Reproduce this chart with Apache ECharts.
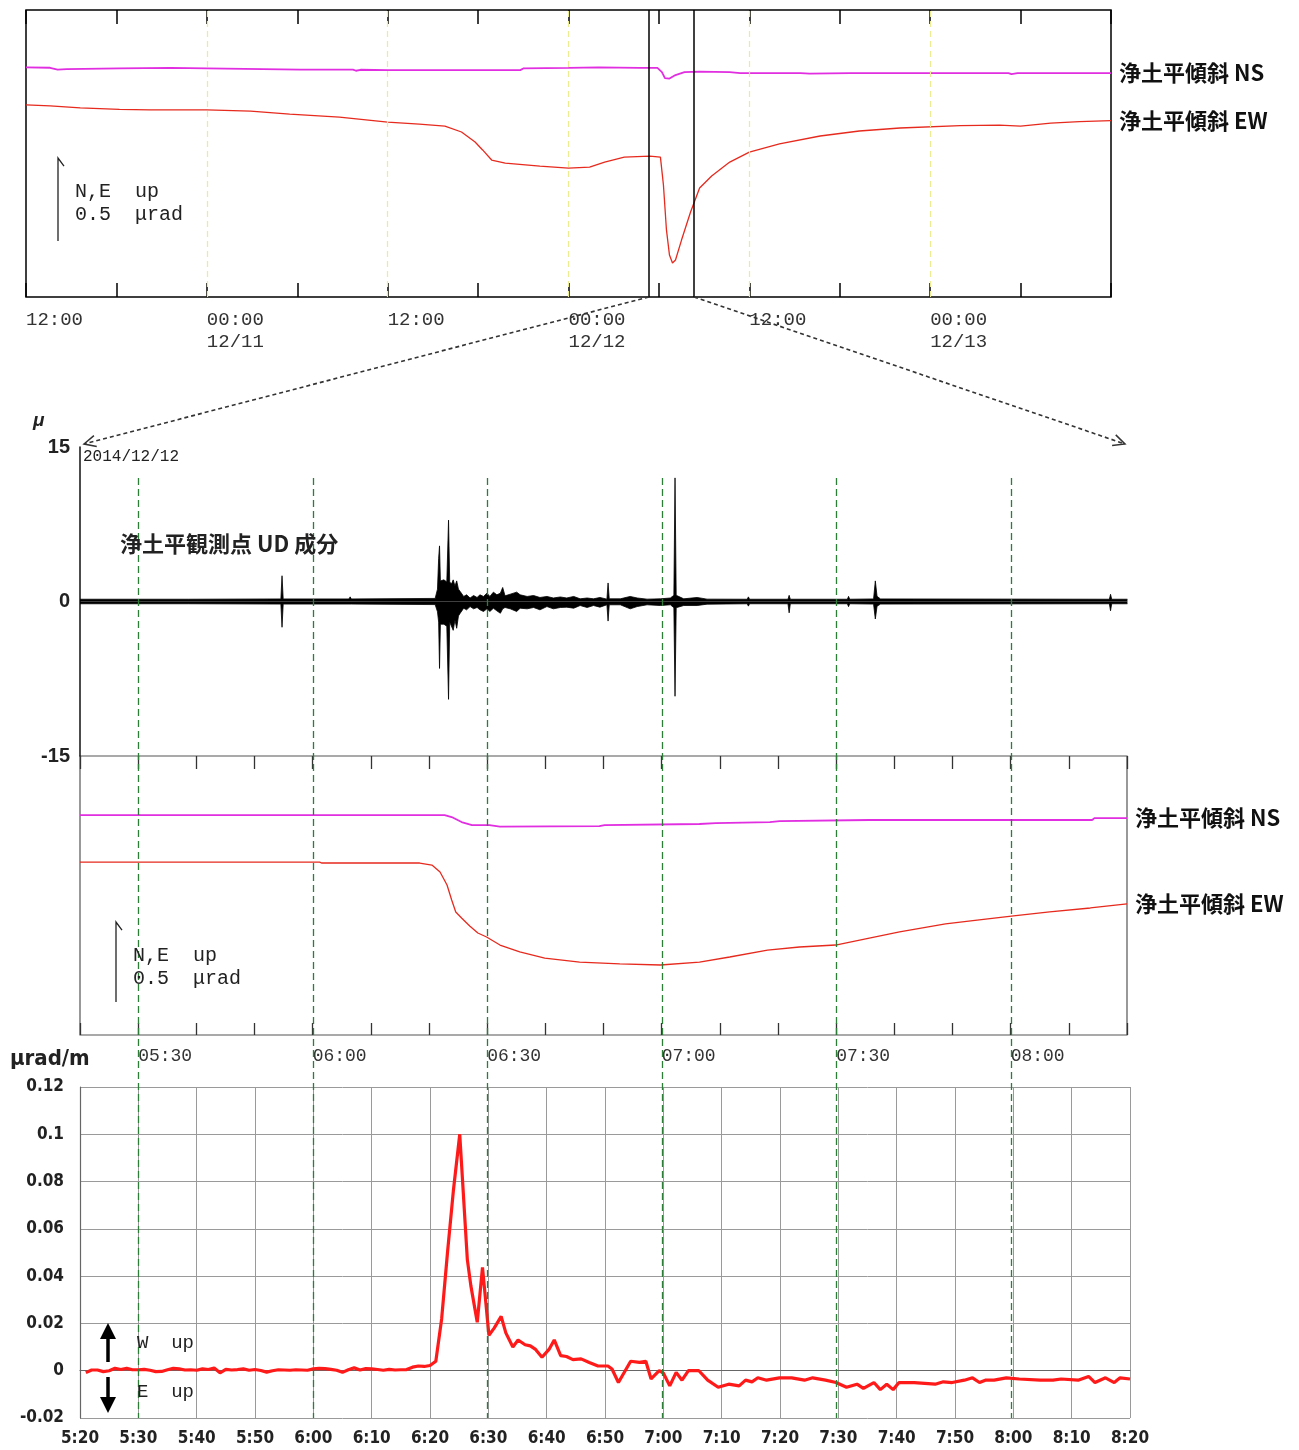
<!DOCTYPE html>
<html><head><meta charset="utf-8">
<script src="https://cdn.jsdelivr.net/npm/echarts@6/dist/echarts.min.js"></script>
<style>html,body{margin:0;padding:0;background:#fff}#c{width:1299px;height:1450px}</style>
</head><body><div id="c"></div>
<script>
// ===== Top panel: hours since 2014/12/10 12:00, tilt in μrad (relative) =====
const topNS = [[0,1.383],[1.6,1.381],[2.1,1.370],[2.7,1.373],[6.2,1.377],[9.6,1.380],[12,1.377],[18.2,1.370],[21.7,1.370],[21.9,1.363],[22.2,1.369],[24,1.367],[28,1.367],[32.8,1.367],[33,1.377],[36,1.380],[38,1.383],[40.7,1.380],[41.9,1.380],[42.2,1.355],[42.4,1.319],[42.7,1.316],[43.1,1.337],[43.7,1.355],[44.7,1.358],[46.7,1.355],[47.4,1.349],[51.4,1.349],[52,1.346],[54.7,1.349],[65.2,1.349],[65.4,1.343],[65.8,1.349],[72,1.349]];
const topEW = [[0,1.157],[1.6,1.151],[3.6,1.139],[6.2,1.130],[8.2,1.127],[12,1.127],[14.9,1.120],[17.5,1.102],[20.8,1.084],[24,1.054],[26.1,1.042],[27.8,1.030],[28.9,0.994],[29.8,0.934],[30.3,0.886],[30.9,0.825],[31.8,0.807],[34.1,0.789],[36,0.777],[37.4,0.783],[38.4,0.813],[39.7,0.843],[41.4,0.849],[42.1,0.843],[42.3,0.675],[42.5,0.404],[42.7,0.253],[42.9,0.205],[43.1,0.223],[43.5,0.343],[44.1,0.512],[44.7,0.657],[45.5,0.729],[46.7,0.813],[48,0.873],[50,0.922],[52.7,0.970],[55.3,1.000],[58,1.018],[62,1.033],[64.6,1.036],[66,1.030],[68,1.048],[69.9,1.057],[72,1.063]];
const topTickLabels = ['12:00','00:00\n12/11','12:00','00:00\n12/12','12:00','00:00\n12/13'];
const topDayLines = [12,24,36,48,60];          // 00:00 / 12:00 guide lines (hours)
const zoomWindow = ['05:20','08:20'];          // on 12/12 (= hour 36 + time)

// ===== Seismogram envelope: minutes since 05:20, [t, upper, lower] (μ) =====
const seisEnvelope = [[0,0.22,-0.22],[18.2,0.22,-0.22],[18.4,0.4,-0.35],[18.6,0.22,-0.22],[34.5,0.25,-0.25],[34.7,2.5,-2.5],[34.9,0.25,-0.25],[46.2,0.25,-0.25],[46.4,0.45,-0.4],[46.6,0.25,-0.25],
  [61.0,0.3,-0.3],[61.4,1.2,-1.0],[61.6,4.2,-2.0],[61.75,5.4,-6.5],[61.9,2.0,-2.2],[62.1,2.0,-2.3],[62.5,2.1,-2.2],[63.0,1.9,-2.4],[63.3,7.9,-9.5],[63.5,1.9,-2.0],[63.8,1.7,-1.9],[64.1,2.1,-2.8],[64.4,1.5,-1.8],[64.7,2.0,-2.6],[65.0,1.2,-1.4],
  [65.3,0.97,-1.14],[65.9,0.49,-0.65],[66.4,0.65,-0.81],[67.0,0.34,-0.49],[67.6,0.58,-0.71],[68.2,0.39,-0.58],[68.7,0.65,-0.81],[69.3,0.49,-0.97],[69.9,0.81,-0.71],[70.4,0.49,-0.97],[71.0,0.91,-0.65],[71.6,0.65,-0.91],[72.2,0.81,-1.14],[72.6,1.36,-0.71],[73.0,0.55,-0.58],[73.9,0.71,-0.71],[75.0,0.91,-0.97],[75.6,0.65,-0.65],[76.8,0.49,-0.71],[77.9,0.58,-0.58],[79.0,0.39,-0.81],[80.2,0.49,-0.49],[81.3,0.34,-0.71],[82.5,0.44,-0.58],[83.6,0.34,-0.55],[84.8,0.49,-0.65],[85.9,0.26,-0.39],[87.1,0.34,-0.58],[88.2,0.26,-0.39],[89.3,0.39,-0.55],[90.5,0.23,-0.32],
  [90.7,1.8,-1.9],[90.9,0.26,-0.32],[92.8,0.26,-0.32],[94.5,0.49,-0.71],[95.7,0.34,-0.49],[97.4,0.23,-0.32],[99.7,0.26,-0.39],[101.4,0.34,-0.32],[102.0,0.6,-0.6],[102.2,12,-9.2],[102.4,0.6,-0.6],[103.7,0.26,-0.39],[106.0,0.39,-0.39],[107.7,0.23,-0.26],
  [114.6,0.22,-0.22],[114.8,0.45,-0.45],[115.0,0.22,-0.22],[121.6,0.22,-0.22],[121.8,0.6,-1.1],[122.0,0.22,-0.22],[131.8,0.22,-0.22],[132.0,0.5,-0.5],[132.2,0.22,-0.22],[136.3,0.25,-0.25],[136.6,2.0,-1.7],[136.9,0.5,-0.45],[137.5,0.25,-0.25],[176.8,0.22,-0.22],[177.0,0.7,-0.9],[177.2,0.22,-0.22],[179.9,0.22,-0.22]];

// ===== Lower tilt panel: minutes since 05:20, μrad (relative) =====
const zoomNS = [[0,1.375],[62.7,1.375],[63.9,1.3625],[65.6,1.331],[67.4,1.3125],[70.4,1.3125],[72.2,1.303],[89.3,1.306],[90.2,1.3125],[106.5,1.319],[109.3,1.325],[118.6,1.331],[120.3,1.3375],[135.7,1.344],[174,1.344],[174.4,1.356],[180,1.356]];
const zoomEW = [[0,1.081],[41.2,1.081],[41.6,1.075],[58.4,1.075],[60.5,1.0625],[61.9,1.019],[63.1,0.9375],[63.9,0.844],[64.6,0.769],[65.6,0.731],[67,0.681],[68.4,0.6375],[69.9,0.6125],[72.2,0.5625],[75.6,0.519],[79.9,0.481],[85.9,0.456],[92.8,0.444],[99.8,0.4375],[106.5,0.456],[111.7,0.4875],[118.2,0.531],[123.7,0.55],[129.9,0.5625],[135.7,0.606],[140.9,0.644],[148.8,0.694],[154.6,0.719],[160.5,0.744],[166.7,0.769],[173.7,0.794],[180,0.819]];
const zoomTickLabels = ['05:30','06:00','06:30','07:00','07:30','08:00'];

// ===== Bottom chart: minutes since 05:20, μrad/m =====
const tiltRate = [[1,-0.0008],[2,0.0003],[3,0.0003],[4,-0.0004],[5,0],[6,0.001],[7,0.0005],[8,0.001],[9,0.0004],[10,0.0004],[11,0.0006],[12,0.0002],[13,-0.0004],[14,-0.0003],[15,0.0004],[16,0.001],[17,0.0008],[18,0.0003],[19,0.0004],[20,0.0002],[21,0.0008],[22,0.0005],[23,0.0011],[24,-0.0009],[25,0.0006],[26,0.0003],[27,0.0005],[28,0.0008],[29,0.0002],[30,0.0005],[31,0.0001],[32,-0.0006],[33,0],[34,0.0004],[35,0.0003],[36,0.0002],[37,0.0004],[38,0.0003],[39,0.0002],[40,0.0008],[41,0.001],[42,0.0009],[43,0.0006],[44,0.0002],[45,-0.0007],[46,0.0004],[47,0.0012],[48,0.0003],[49,0.0009],[50,0.0008],[51,0.0005],[52,0.0002],[53,0.0006],[54,0.0003],[55,0.0004],[56,0.0005],[57,0.0015],[58,0.002],[59,0.0018],[60,0.0022],[61,0.004],[62,0.022],[63,0.05],[64,0.076],[65.1,0.1],[66.4,0.047],[67,0.036],[68.1,0.0205],[69,0.0437],[70.1,0.015],[71,0.018],[72.2,0.023],[73,0.016],[74.2,0.01],[75.1,0.013],[76.3,0.011],[77.2,0.0105],[78.1,0.009],[79.2,0.0057],[80.4,0.009],[81.3,0.013],[82.4,0.0064],[83.4,0.006],[84.5,0.0047],[85.9,0.005],[87.3,0.0035],[88.8,0.002],[90.5,0.002],[91.2,0.0007],[92.3,-0.005],[94.4,0.004],[95.9,0.0035],[97,0.004],[97.9,-0.0035],[99.3,0],[100,-0.001],[101.1,-0.0064],[102.2,-0.0007],[103.2,-0.004],[104.3,0],[106.1,0],[107.6,-0.004],[109.4,-0.007],[111.2,-0.0057],[113,-0.0064],[114.1,-0.004],[115.2,-0.0047],[116.2,-0.003],[117.7,-0.004],[119.9,-0.003],[122,-0.003],[124.2,-0.004],[125.6,-0.003],[127.8,-0.004],[129.6,-0.005],[131.4,-0.007],[133.2,-0.0057],[134.3,-0.0075],[136.1,-0.005],[137.2,-0.008],[138.3,-0.0057],[139.4,-0.008],[140.4,-0.005],[143,-0.005],[146.6,-0.0057],[148,-0.0047],[149.5,-0.005],[151.6,-0.004],[153,-0.003],[154.2,-0.005],[155.2,-0.004],[156.7,-0.004],[158.8,-0.003],[161,-0.0035],[164.6,-0.004],[166.8,-0.004],[168.2,-0.0035],[171.1,-0.004],[172.9,-0.0024],[174,-0.005],[175.8,-0.003],[177.3,-0.005],[178.3,-0.003],[180,-0.0035]];
const rateXLabels = ['5:20','5:30','5:40','5:50','6:00','6:10','6:20','6:30','6:40','6:50','7:00','7:10','7:20','7:30','7:40','7:50','8:00','8:10','8:20'];
const rateYLabels = ['-0.02','0','0.02','0.04','0.06','0.08','0.1','0.12'];

// ---------- helpers ----------
const toMin = s => { const [h,m] = s.split(':').map(Number); return h*60+m-320; };
const MONO = '"Liberation Mono", "DejaVu Sans Mono", monospace';
const CJK = '"Noto Sans CJK JP", "Noto Sans", sans-serif';
const COND = '"DejaVu Sans Condensed", "Liberation Sans Narrow", "DejaVu Sans", sans-serif';
const MAG = '#e02ee0', RED = '#e62a1e';

const chart = echarts.init(document.getElementById('c'));
const grids = [
  {left:26, top:10, width:1085, height:287, show:true, borderColor:'#000', borderWidth:1.5, backgroundColor:'transparent'},
  {left:80, top:447, width:1048, height:309},
  {left:80, top:756, width:1047, height:279, show:true, borderColor:'#555', borderWidth:1.2, backgroundColor:'transparent'},
  {left:80, top:1087, width:1050, height:331}
];
const endLab = {show:true, formatter:'{a}', distance:8, color:'#111', fontFamily:CJK, fontWeight:'bold', fontSize:22};

const option = {
  animation:false,
  backgroundColor:'#fff',
  grid: grids,
  xAxis: [
    {gridIndex:0, type:'value', min:0, max:72, interval:6, position:'bottom',
      axisLine:{show:false}, axisTick:{inside:true, length:14, lineStyle:{color:'#000', width:1.5}},
      splitLine:{show:false},
      axisLabel:{margin:12, align:'left', color:'#333', fontFamily:MONO, fontSize:19, lineHeight:22,
        formatter:v => (v%12===0 && v/12 < topTickLabels.length) ? topTickLabels[v/12] : ''}},
    {gridIndex:0, type:'value', min:0, max:72, interval:6, position:'top',
      axisLine:{show:false}, axisTick:{inside:true, length:14, lineStyle:{color:'#000', width:1.5}},
      axisLabel:{show:false}, splitLine:{show:false}},
    {gridIndex:1, type:'value', min:0, max:180, show:false},
    {gridIndex:2, type:'value', min:0, max:180, interval:10, position:'bottom',
      axisLine:{show:false}, axisTick:{inside:true, length:12, lineStyle:{color:'#333', width:1.3}},
      splitLine:{show:false},
      axisLabel:{margin:12, align:'left', color:'#333', fontFamily:MONO, fontSize:18,
        formatter:v => { const i = zoomTickLabels.findIndex(s => toMin(s)===v); return i<0 ? '' : zoomTickLabels[i]; }}},
    {gridIndex:2, type:'value', min:0, max:180, interval:10, position:'top',
      axisLine:{show:false}, axisTick:{inside:true, length:13, lineStyle:{color:'#333', width:1.3}},
      axisLabel:{show:false}, splitLine:{show:false}},
    {gridIndex:3, type:'value', min:0, max:180, interval:10,
      axisLine:{show:true, lineStyle:{color:'#666', width:1.2}}, axisTick:{show:false},
      splitLine:{show:true, lineStyle:{color:'#9a9a9a', width:1}},
      axisLabel:{margin:12, color:'#222', fontFamily:COND, fontWeight:'bold', fontSize:17,
        formatter:v => { const i = rateXLabels.findIndex(s => toMin(s)===v); return i<0 ? '' : rateXLabels[i]; }}}
  ],
  yAxis: [
    {gridIndex:0, type:'value', min:0, max:1.729, show:false},
    {gridIndex:1, type:'value', min:-15, max:15, interval:15,
      axisLine:{show:true, lineStyle:{color:'#111', width:1.5}}, axisTick:{show:false}, splitLine:{show:false},
      axisLabel:{margin:10, color:'#222', fontFamily:'"Liberation Sans", Arial, sans-serif', fontWeight:'bold', fontSize:20}},
    {gridIndex:2, type:'value', min:0, max:1.744, show:false},
    {gridIndex:3, type:'value', min:-0.02, max:0.12, interval:0.02,
      axisLine:{show:true, lineStyle:{color:'#666', width:1.2}}, axisTick:{show:false},
      splitLine:{show:true, lineStyle:{color:'#9a9a9a', width:1}},
      axisLabel:{margin:16, color:'#222', fontFamily:COND, fontWeight:'bold', fontSize:17,
        formatter:v => rateYLabels[Math.round((v+0.02)/0.02)] || ''}}
  ],
  series: [
    {name:'浄土平傾斜 NS', type:'line', xAxisIndex:0, yAxisIndex:0, data:topNS, showSymbol:false,
      lineStyle:{color:MAG, width:1.8}, itemStyle:{color:MAG}, endLabel:endLab},
    {name:'浄土平傾斜 EW', type:'line', xAxisIndex:0, yAxisIndex:0, data:topEW, showSymbol:false,
      lineStyle:{color:RED, width:1.3}, itemStyle:{color:RED}, endLabel:endLab,
      markLine:{silent:true, symbol:['none','none'], label:{show:false},
        data: topDayLines.map(h => ({xAxis:h, lineStyle:{color:'#ecec90', type:[6,4], width:1.2}}))
          .concat(zoomWindow.map(s => ({xAxis:36 + (toMin(s)+320)/60, lineStyle:{color:'#000', type:'solid', width:1.5}})))}},
    {name:'seisUp', type:'line', xAxisIndex:2, yAxisIndex:1, data:seisEnvelope.map(d => [d[0], d[1]]),
      showSymbol:false, lineStyle:{color:'#000', width:0.8}, areaStyle:{color:'#000', opacity:1}},
    {name:'seisDown', type:'line', xAxisIndex:2, yAxisIndex:1, data:seisEnvelope.map(d => [d[0], d[2]]),
      showSymbol:false, lineStyle:{color:'#000', width:0.8}, areaStyle:{color:'#000', opacity:1}},
    {name:'浄土平傾斜 NS', type:'line', xAxisIndex:3, yAxisIndex:2, data:zoomNS, showSymbol:false,
      lineStyle:{color:MAG, width:1.8}, itemStyle:{color:MAG}, endLabel:endLab},
    {name:'浄土平傾斜 EW', type:'line', xAxisIndex:3, yAxisIndex:2, data:zoomEW, showSymbol:false,
      lineStyle:{color:RED, width:1.3}, itemStyle:{color:RED}, endLabel:endLab},
    {name:'rate', type:'line', xAxisIndex:5, yAxisIndex:3, data:tiltRate, showSymbol:false,
      lineStyle:{color:'#ff1a1a', width:3.2}, itemStyle:{color:'#ff1a1a'}, z:4}
  ]
};
chart.setOption(option);

// ---------- annotations positioned through the axes ----------
const px = (ax, v) => chart.convertToPixel({xAxisIndex:ax}, v);
const py = (ax, v) => chart.convertToPixel({yAxisIndex:ax}, v);
const g = [];
const txt = (x, y, text, font, extra) => g.push(Object.assign({type:'text', z:20, style:{x, y, text, font, fill:'#222', verticalAlign:'middle'}}, extra||{}));
const line = (x1, y1, x2, y2, stroke, width, dash, z) => g.push({type:'line', z:z||20, shape:{x1,y1,x2,y2}, style:{stroke, lineWidth:width, lineDash:dash||null}});

// green dashed guide lines spanning the lower three panels
const guideTimes = ['05:30','06:00','06:30','07:00','07:30','08:00'];
const gTop = py(1, 12), gBot = py(3, -0.02);
guideTimes.forEach(s => { const x = Math.round(px(3, toMin(s))) + 0.5; line(x, gTop, x, gBot, '#2c7d36', 1.3, [7,4], 15); });

// dashed zoom arrows
const topBottom = grids[0].top + grids[0].height;
const ends = [
  [px(0, 36 + (toMin(zoomWindow[0])+320)/60), topBottom, grids[1].left + 4, grids[1].top - 3],
  [px(0, 36 + (toMin(zoomWindow[1])+320)/60), topBottom, grids[1].left + grids[1].width - 3, grids[1].top - 3]
];
ends.forEach(([x1,y1,x2,y2]) => {
  line(x1, y1, x2, y2, '#333', 1.6, [4,3]);
  const a = Math.atan2(y2-y1, x2-x1), L = 13, t = 0.45;
  g.push({type:'polyline', z:20, shape:{points:[[x2 - L*Math.cos(a-t), y2 - L*Math.sin(a-t)], [x2, y2], [x2 - L*Math.cos(a+t), y2 - L*Math.sin(a+t)]]}, style:{stroke:'#333', lineWidth:1.5, fill:null}});
});

// scale bars (0.5 μrad)
function scaleBar(yAx, x, v0, textX) {
  const yb = py(yAx, v0), yt = py(yAx, v0 + 0.5);
  g.push({type:'polyline', z:20, shape:{points:[[x, yb],[x, yt],[x+6, yt+8]]}, style:{stroke:'#222', lineWidth:1.3, fill:null}});
  txt(textX, yt + 34, 'N,E  up', '20px ' + MONO);
  txt(textX, yt + 57, '0.5  μrad', '20px ' + MONO);
}
scaleBar(0, 58, 0.337, 75);
scaleBar(2, 116, 0.206, 133);

// texts
txt(33, 421, 'μ', 'italic bold 19px "Liberation Sans", sans-serif');
txt(83, 457, '2014/12/12', '16px ' + MONO);
txt(120, 544, '浄土平観測点 UD 成分', 'bold 22px ' + CJK);
txt(10, 1059, 'μrad/m', 'bold 22px ' + COND);

// W up / E up arrows
const ax = 108;
line(ax, 1362, ax, 1336, '#000', 3.5);
g.push({type:'polygon', z:20, shape:{points:[[ax,1323],[ax-8,1339],[ax+8,1339]]}, style:{fill:'#000'}});
line(ax, 1377, ax, 1400, '#000', 3.5);
g.push({type:'polygon', z:20, shape:{points:[[ax,1413],[ax-8,1397],[ax+8,1397]]}, style:{fill:'#000'}});
txt(137, 1343, 'W  up', '19px ' + MONO);
txt(137, 1392, 'E  up', '19px ' + MONO);

chart.setOption({graphic: g});
</script>
</body></html>
